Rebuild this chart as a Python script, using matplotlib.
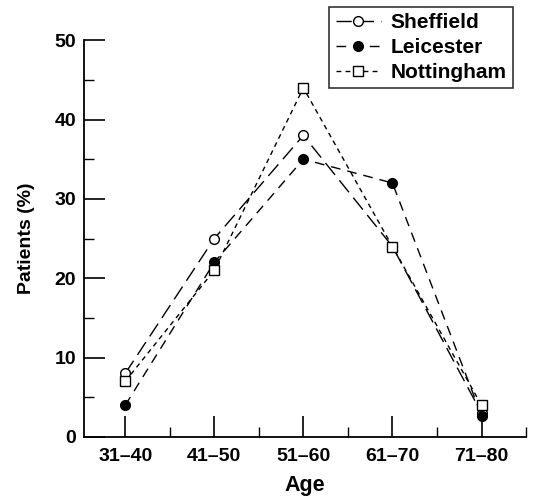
import matplotlib
matplotlib.use("Agg")
import matplotlib.pyplot as plt
from matplotlib.ticker import MultipleLocator, FixedLocator

plt.rcParams['font.family'] = ['Liberation Sans', 'DejaVu Sans']
plt.rcParams['font.weight'] = 'bold'

age_groups = ["31\u201340", "41\u201350", "51\u201360", "61\u201370", "71\u201380"]
sheffield = [8, 25, 38, 24, 3]
leicester = [4, 22, 35, 32, 2.7]
nottingham = [7, 21, 44, 24, 4]
y_ticks = [0, 10, 20, 30, 40, 50]

fig = plt.figure(figsize=(5.33, 4.96), dpi=100)
ax = fig.add_axes([0.158, 0.119, 0.829, 0.80])

x = list(range(len(age_groups)))
ax.plot(x, sheffield, color='black', lw=1.0, dashes=(11, 5), marker='o',
        markersize=7, markerfacecolor='white', markeredgecolor='black',
        markeredgewidth=1.0, label='Sheffield', zorder=3)
ax.plot(x, leicester, color='black', lw=1.0, dashes=(7, 5), marker='o',
        markersize=7, markerfacecolor='black', markeredgecolor='black',
        label='Leicester', zorder=3)
ax.plot(x, nottingham, color='black', lw=1.0, dashes=(3.5, 3), marker='s',
        markersize=7, markerfacecolor='white', markeredgecolor='black',
        markeredgewidth=1.0, label='Nottingham', zorder=3)

ax.set_xlim(-0.46, 4.5)
ax.set_ylim(0, 50)
ax.set_xticks(x)
ax.set_xticklabels(age_groups)
ax.xaxis.set_minor_locator(FixedLocator([0.5, 1.5, 2.5, 3.5, 4.5]))
ax.set_yticks(y_ticks)
ax.yaxis.set_minor_locator(MultipleLocator(5))

ax.spines['top'].set_visible(False)
ax.spines['right'].set_visible(False)
for s in ('left', 'bottom'):
    ax.spines[s].set_linewidth(1.3)

ax.tick_params(which='major', direction='in', length=15, width=1.2,
               labelsize=14, pad=6)
ax.tick_params(which='minor', direction='in', length=7, width=1.0)
ax.tick_params(axis='x', which='major', pad=8)

ax.set_xlabel('Age', fontsize=15.5, fontweight='bold', labelpad=7)
ax.set_ylabel('Patients (%)', fontsize=14, fontweight='bold', labelpad=14)

leg = ax.legend(loc='upper right', bbox_to_anchor=(513 / 533, 1 - 7 / 496),
                bbox_transform=fig.transFigure, fontsize=15,
                frameon=True, fancybox=False, handlelength=2.2,
                handletextpad=0.45, borderpad=0.3, labelspacing=0.28,
                borderaxespad=0.0)
leg.get_frame().set_edgecolor('black')
leg.get_frame().set_linewidth(1.2)
for t in leg.get_texts():
    t.set_fontweight('bold')

fig.savefig('out.png', dpi=100)
